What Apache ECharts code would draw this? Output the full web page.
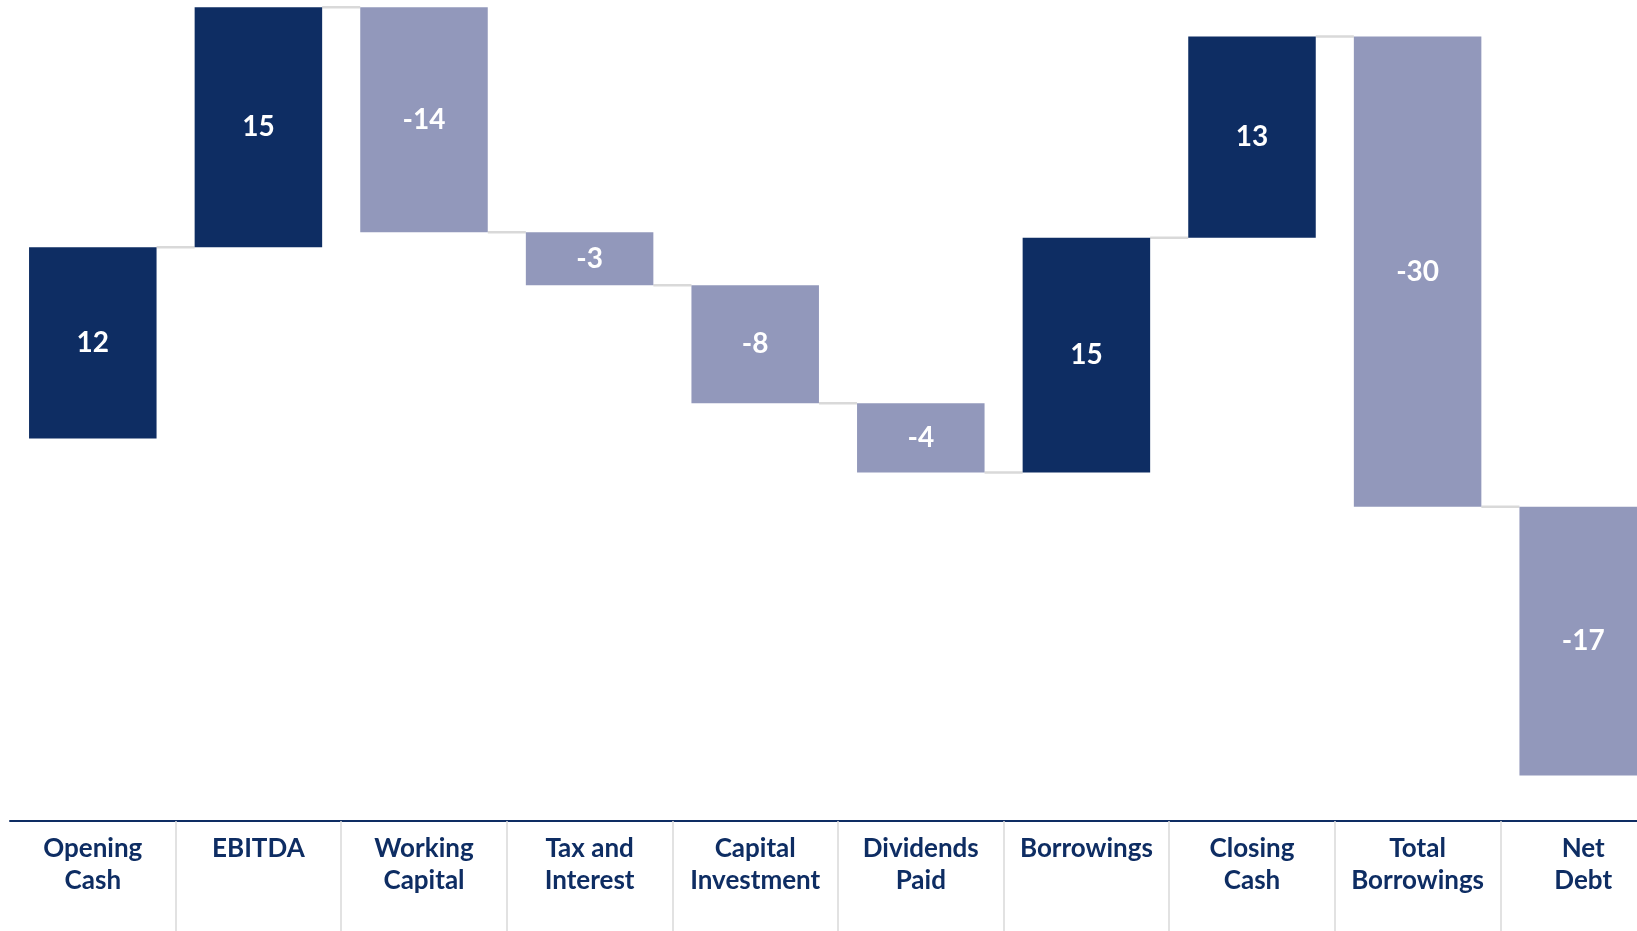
<!DOCTYPE html>
<html>
<head>
<meta charset="utf-8">
<script src="https://cdn.jsdelivr.net/npm/echarts@6/dist/echarts.min.js"></script>
<style>
  html, body { margin: 0; padding: 0; background: #ffffff; overflow: hidden; }
  #chart { width: 1700px; height: 931px; }
</style>
</head>
<body>
<div id="chart"></div>
<script>
// Categories
const categories = ['Opening\nCash', 'EBITDA', 'Working\nCapital', 'Tax and\nInterest', 'Capital\nInvestment', 'Dividends\nPaid', 'Borrowings', 'Closing\nCash', 'Total\nBorrowings', 'Net\nDebt'];
// Bar movements as drawn
const deltas = [11.95, 15.0, -14.06, -3.32, -7.37, -4.32, 14.67, 12.57, -29.38, -16.79];
// Labels as printed on the bars
const valueLabels = ['12', '15', '-14', '-3', '-8', '-4', '15', '13', '-30', '-17'];
// Which bars are dark (increase) vs light (decrease)
const barKinds = ['dark', 'dark', 'light', 'light', 'light', 'light', 'dark', 'dark', 'light', 'light'];

const DARK = '#0e2d63';
const LIGHT = '#9298bb';

// Build running levels
const barData = [];
let level = 0;
for (let i = 0; i < deltas.length; i++) {
  const start = level;
  const end = level + deltas[i];
  barData.push([i, start, end, valueLabels[i], barKinds[i]]);
  level = end;
}
const connectorData = [];
for (let i = 0; i < barData.length - 1; i++) {
  connectorData.push([i, barData[i][2]]);
}

const BAR_RATIO = 0.77;

const chart = echarts.init(document.getElementById('chart'));
chart.setOption({
  animation: false,
  backgroundColor: '#ffffff',
  grid: { left: 10, width: 1656, top: 0, bottom: 110, containLabel: false },
  xAxis: {
    type: 'category',
    data: categories,
    boundaryGap: true,
    position: 'bottom',
    axisLine: { show: true, onZero: false, lineStyle: { color: DARK, width: 2 } },
    axisTick: {
      show: true,
      length: 115,
      interval: function (i) { return i !== 0; },
      lineStyle: { color: '#d9d9d9', width: 1.5 }
    },
    axisLabel: {
      interval: 0,
      margin: 12,
      color: DARK,
      fontFamily: 'Lato',
      fontWeight: 'bold',
      fontSize: 26,
      lineHeight: 32,
      align: 'center'
    },
    splitLine: { show: false }
  },
  yAxis: {
    type: 'value',
    min: -23.9,
    max: 27.4,
    show: false,
    splitLine: { show: false }
  },
  series: [
    {
      type: 'custom',
      name: 'connectors',
      data: connectorData,
      encode: { x: 0, y: 1 },
      z: 1,
      renderItem: function (params, api) {
        const i = api.value(0);
        const v = api.value(1);
        const bw = api.size([1, 0])[0] * BAR_RATIO;
        const p1 = api.coord([i, v]);
        const p2 = api.coord([i + 1, v]);
        return {
          type: 'line',
          shape: { x1: p1[0] + bw / 2, y1: p1[1], x2: p2[0] - bw / 2, y2: p2[1] },
          style: { stroke: '#d9d9d9', lineWidth: 2.5 }
        };
      }
    },
    {
      type: 'custom',
      name: 'bars',
      data: barData,
      encode: { x: 0, y: [1, 2] },
      z: 2,
      renderItem: function (params, api) {
        const i = api.value(0);
        const s = api.value(1);
        const e = api.value(2);
        const d = barData[params.dataIndex];
        const bw = api.size([1, 0])[0] * BAR_RATIO;
        const pS = api.coord([i, s]);
        const pE = api.coord([i, e]);
        const top = Math.min(pS[1], pE[1]);
        const h = Math.abs(pS[1] - pE[1]);
        return {
          type: 'group',
          children: [
            {
              type: 'rect',
              shape: { x: pS[0] - bw / 2, y: top, width: bw, height: h },
              style: { fill: d[4] === 'dark' ? DARK : LIGHT }
            },
            {
              type: 'text',
              style: {
                text: d[3],
                x: pS[0],
                y: top + h / 2,
                fill: '#ffffff',
                fontFamily: 'Lato',
                fontWeight: 'bold',
                fontSize: 28,
                align: 'center',
                verticalAlign: 'middle'
              }
            }
          ]
        };
      }
    }
  ]
});
</script>
</body>
</html>
